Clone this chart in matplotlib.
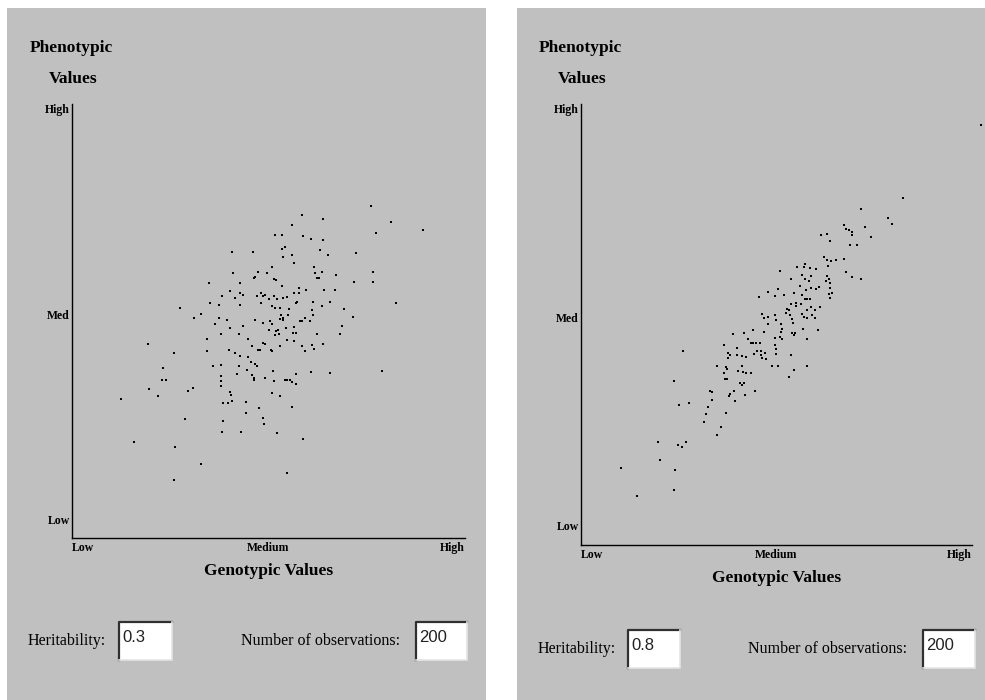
import matplotlib
matplotlib.use('Agg')
import matplotlib.pyplot as plt
from matplotlib.patches import Rectangle
from matplotlib.lines import Line2D

plt.rcParams['font.family'] = 'Liberation Serif'

# heritability 0.3 (genotypic, phenotypic), 0..100 along each axis
geno_h03 = [76.0, 81.1, 89.3, 77.3, 58.4, 63.8, 55.9, 51.6, 53.4, 58.9, 60.8, 63.8, 54.3, 53.5, 63.2,
            40.6, 46.1, 53.7, 55.9, 65.1, 72.2, 56.5, 51.0, 61.6, 40.9, 47.4, 49.5, 46.6, 46.3, 51.4,
            51.8, 61.8, 63.6, 62.4, 62.9, 67.3, 76.6, 76.5, 71.8, 34.8, 42.7, 53.4, 57.7, 64.2, 67.0,
            40.3, 38.1, 42.7, 43.6, 41.5, 47.0, 48.1, 48.6, 49.2, 50.2, 51.4, 52.2, 53.7, 54.6, 56.5,
            57.7, 59.6, 57.3, 57.0, 61.4, 63.6, 65.7, 82.5, 35.0, 37.3, 42.8, 48.2, 50.9, 51.7, 52.9,
            55.3, 61.1, 69.3, 27.4, 32.9, 31.1, 37.5, 39.4, 46.5, 48.7, 50.5, 50.8, 53.1, 53.7, 53.7,
            52.8, 54.9, 59.3, 58.0, 58.5, 61.2, 60.5, 71.5, 36.5, 40.2, 43.5, 50.1, 52.0, 52.5, 54.4,
            56.5, 56.3, 57.0, 68.7, 68.1, 37.8, 42.5, 51.7, 52.7, 62.3, 34.3, 44.8, 54.7, 56.6, 19.4,
            45.7, 48.6, 49.2, 47.4, 47.8, 40.0, 41.6, 42.7, 50.6, 51.0, 52.8, 58.6, 59.2, 61.0, 61.7,
            63.8, 25.9, 34.3, 44.8, 46.5, 45.6, 47.0, 35.9, 38.0, 42.6, 23.2, 44.5, 41.9, 45.8, 51.1,
            60.7, 65.6, 78.9, 22.9, 24.0, 38.0, 38.0, 46.2, 46.4, 49.0, 51.4, 54.3, 54.6, 55.5, 57.0,
            56.1, 57.1, 37.8, 30.7, 29.6, 19.7, 21.9, 40.3, 40.4, 51.0, 52.9, 12.4, 38.5, 39.7, 40.8,
            44.3, 47.7, 55.9, 44.2, 28.7, 38.3, 48.6, 48.9, 38.1, 43.0, 52.2, 58.7, 15.8, 26.2, 32.8,
            54.8, 25.9]
pheno_h03 = [76.4, 72.9, 70.9, 70.2, 74.4, 73.6, 72.1, 69.9, 69.9, 69.5, 69.0, 68.7, 67.1, 66.7, 66.3,
             66.0, 66.0, 64.8, 65.1, 65.1, 65.6, 63.3, 62.5, 62.5, 61.1, 61.4, 61.1, 60.1, 59.8, 59.7,
             59.4, 61.1, 61.4, 59.9, 59.9, 60.6, 61.4, 59.1, 59.1, 58.8, 58.8, 58.0, 57.5, 57.2, 57.2,
             56.8, 55.7, 56.5, 56.1, 55.3, 55.7, 56.4, 55.7, 56.1, 55.0, 55.7, 55.1, 55.3, 55.6, 56.4,
             56.5, 57.2, 54.4, 54.1, 54.3, 53.4, 54.4, 54.1, 54.1, 53.7, 53.8, 54.1, 53.4, 53.1, 53.0,
             52.7, 52.6, 52.7, 53.0, 51.7, 50.6, 50.6, 50.3, 50.3, 49.6, 49.9, 49.3, 51.3, 50.7, 50.3,
             50.5, 51.3, 50.6, 49.9, 49.9, 51.3, 50.1, 50.9, 49.2, 48.4, 48.8, 48.0, 47.8, 47.9, 48.4,
             48.6, 47.3, 47.3, 48.8, 46.9, 46.9, 46.9, 46.7, 46.9, 46.9, 45.8, 45.8, 45.7, 45.3, 44.6,
             44.2, 44.9, 44.7, 43.3, 43.4, 43.4, 42.6, 42.0, 43.4, 43.1, 44.3, 44.3, 43.1, 44.4, 43.5,
             44.6, 42.7, 43.1, 41.6, 40.2, 40.6, 39.7, 39.6, 39.8, 39.6, 39.2, 38.6, 37.7, 37.6, 38.5,
             38.3, 38.1, 38.5, 36.5, 36.5, 37.3, 36.2, 36.8, 36.5, 36.9, 36.2, 36.5, 36.3, 36.3, 37.8,
             36.0, 35.5, 35.0, 34.6, 33.8, 34.3, 32.7, 33.6, 32.9, 33.4, 32.7, 32.1, 31.2, 31.2, 31.6,
             31.3, 30.0, 30.1, 28.9, 27.5, 27.0, 27.7, 26.2, 24.4, 24.4, 24.1, 22.8, 22.1, 21.0, 17.1,
             14.9, 13.3]

# heritability 0.8
geno_h08 = [102.2, 82.4, 71.5, 78.6, 79.5, 67.2, 67.9, 68.6, 69.3, 69.2, 72.6, 74.1, 61.4, 63.0, 63.7,
            68.8, 70.5, 62.1, 63.0, 63.2, 64.0, 65.2, 67.3, 67.9, 69.2, 71.5, 55.2, 57.0, 57.2, 58.5,
            60.2, 51.0, 58.9, 62.9, 63.5, 62.6, 63.6, 63.6, 63.3, 64.3, 63.8, 53.7, 56.5, 57.2, 58.3,
            56.0, 58.7, 57.6, 60.8, 60.2, 45.5, 47.9, 50.3, 49.5, 52.0, 54.4, 56.6, 57.3, 57.9, 58.6,
            56.3, 55.1, 53.7, 52.8, 52.4, 53.2, 53.5, 54.9, 61.0, 58.9, 57.8, 56.6, 57.1, 57.8, 59.8,
            59.0, 59.8, 46.2, 46.8, 47.8, 47.9, 49.6, 49.8, 51.2, 53.9, 54.3, 51.4, 51.1, 53.9, 54.4,
            54.7, 56.8, 60.5, 57.9, 44.1, 46.8, 41.8, 38.9, 42.8, 43.6, 44.0, 44.7, 45.7, 49.6, 49.7,
            51.5, 50.9, 39.8, 36.7, 37.7, 38.2, 37.5, 39.8, 41.1, 42.2, 44.3, 45.1, 46.1, 47.1, 46.1,
            46.3, 47.4, 49.8, 49.8, 53.6, 48.8, 50.5, 57.8, 53.2, 54.4, 34.8, 37.0, 37.4, 36.5, 40.1,
            41.3, 41.5, 42.3, 43.4, 36.8, 37.4, 40.7, 41.2, 41.7, 33.1, 33.6, 38.2, 37.9, 39.1, 41.9,
            44.6, 33.6, 39.3, 26.0, 23.8, 25.0, 27.7, 32.5, 31.9, 31.5, 37.0, 35.7, 34.8, 19.8, 24.7,
            25.9, 26.8, 20.1, 24.0, 10.2, 14.2, 23.8]
pheno_h08 = [95.3, 78.6, 76.3, 74.1, 72.9, 72.5, 71.7, 71.4, 71.0, 70.2, 72.1, 69.9, 70.4, 70.5, 69.0,
             68.0, 68.0, 65.3, 64.7, 63.3, 64.4, 64.7, 64.9, 61.9, 60.8, 60.3, 63.1, 63.1, 63.8, 62.8,
             62.6, 62.2, 61.1, 61.0, 60.3, 59.8, 59.3, 58.3, 57.0, 57.2, 55.9, 60.4, 61.3, 60.3, 59.8,
             58.8, 58.3, 57.8, 58.4, 58.0, 56.3, 57.3, 58.0, 56.5, 56.7, 57.1, 56.7, 55.7, 55.7, 55.7,
             54.7, 54.9, 54.6, 53.5, 52.7, 53.2, 52.2, 54.3, 53.9, 53.9, 53.2, 52.4, 51.7, 51.5, 53.2,
             52.2, 51.5, 52.3, 51.5, 51.7, 50.2, 52.2, 51.1, 50.2, 51.2, 50.4, 48.9, 48.4, 48.1, 47.7,
             48.1, 48.9, 48.7, 46.6, 48.7, 48.4, 48.1, 47.9, 46.7, 45.9, 45.9, 45.9, 45.7, 46.9, 45.4,
             46.6, 47.1, 44.7, 45.3, 43.6, 43.1, 42.3, 43.0, 42.8, 42.6, 43.3, 44.1, 44.1, 43.6, 43.1,
             42.5, 42.2, 44.4, 43.4, 43.1, 40.5, 40.5, 40.5, 38.2, 39.7, 40.5, 40.3, 39.9, 39.0, 39.5,
             40.7, 39.3, 38.9, 39.1, 37.7, 37.7, 36.8, 36.2, 36.7, 35.0, 34.8, 34.2, 33.9, 35.0, 34.0,
             34.9, 32.9, 32.6, 44.0, 37.1, 31.7, 32.1, 31.2, 29.7, 28.0, 29.9, 26.7, 25.0, 23.3, 22.7,
             22.2, 23.3, 19.2, 17.0, 17.4, 11.2, 12.5]

heritability = ['0.3', '0.8']
n_obs = ['200', '200']
tick_names = ['Low', 'Medium', 'High']

W, H = 985, 700
fig = plt.figure(figsize=(W / 100, H / 100), dpi=100)
fig.patch.set_facecolor('white')
bg = '#c0c0c0'


def fx(x):
    return x / W


def fy(y):
    return 1 - y / H


def input_box(x0, x1, y0, y1, txt):
    fig.add_artist(Rectangle((fx(x0), fy(y1)), fx(x1 - x0), (y1 - y0) / H,
                             transform=fig.transFigure, facecolor='white', edgecolor='none'))
    # sunken border: dark top/left, light bottom/right
    fig.add_artist(Line2D([fx(x0), fx(x0), fx(x1)], [fy(y1), fy(y0), fy(y0)],
                          transform=fig.transFigure, color='#303030', lw=1.6))
    fig.add_artist(Line2D([fx(x0), fx(x1), fx(x1)], [fy(y1), fy(y1), fy(y0)],
                          transform=fig.transFigure, color='#e4e4e4', lw=1.2))
    fig.text(fx(x0 + 3), fy((y0 + y1) / 2 - 3), txt, ha='left', va='center',
             fontsize=12, family='Liberation Sans', color='#222222')


panels = [
    # panel x-range, axes box (left, right, top, bottom), text row y, data
    dict(px=(7, 486), ax=(72, 465, 104, 538),
         x=geno_h03, y=pheno_h03, h=heritability[0], n=n_obs[0],
         hbox=(119, 172), nbox=(416, 467), row=641),
    dict(px=(517, 985), ax=(581, 972, 104, 545),
         x=geno_h08, y=pheno_h08, h=heritability[1], n=n_obs[1],
         hbox=(628, 680), nbox=(923, 975), row=649),
]

for p in panels:
    x0, x1 = p['px']
    fig.add_artist(Rectangle((fx(x0), 0), fx(x1 - x0), fy(8), transform=fig.transFigure,
                             facecolor=bg, edgecolor='none', zorder=0))

    l, r, t, b = p['ax']
    ax = fig.add_axes([fx(l), fy(b), fx(r - l), (b - t) / H])
    ax.patch.set_alpha(0)
    ax.set_xlim(0, 100)
    ax.set_ylim(0, 100)
    for s in ['top', 'right']:
        ax.spines[s].set_visible(False)
    for s in ['left', 'bottom']:
        ax.spines[s].set_color('black')
        ax.spines[s].set_linewidth(1.0)
    ax.set_xticks([])
    ax.set_yticks([])

    ax.plot(p['x'], p['y'], 's', color='black', markersize=2.0, markeredgewidth=0,
            clip_on=False)

    # axis labels
    hgt = b - t
    wid = r - l
    ax.text(-2 / wid, 1.0, 'High', transform=ax.transAxes, ha='right', va='top',
            fontsize=8.5, fontweight='bold')
    ax.text(-2 / wid, 0.512, 'Med', transform=ax.transAxes, ha='right', va='center',
            fontsize=8.5, fontweight='bold')
    ax.text(-2 / wid, 0.04, 'Low', transform=ax.transAxes, ha='right', va='center',
            fontsize=8.5, fontweight='bold')
    for xv, name, ha in zip([0, 0.5, 1.0], tick_names, ['left', 'center', 'right']):
        ax.text(xv, -10 / hgt, name, transform=ax.transAxes, ha=ha, va='center',
                fontsize=8.5, fontweight='bold')

    cx = (l + r) / 2
    fig.text(fx(cx), fy(b + 33), 'Genotypic Values', ha='center', va='center',
             fontsize=12.5, fontweight='bold')
    fig.text(fx(l - 1), fy(48), 'Phenotypic', ha='center', va='center',
             fontsize=12.5, fontweight='bold')
    fig.text(fx(l + 1), fy(79), 'Values', ha='center', va='center',
             fontsize=12.5, fontweight='bold')

    row = p['row']
    fig.text(fx(x0 + 21), fy(row), 'Heritability:', ha='left', va='center', fontsize=11.5)
    input_box(p['hbox'][0], p['hbox'][1], row - 19, row + 19, p['h'])
    fig.text(fx(p['nbox'][0] - 16), fy(row), 'Number of observations:', ha='right',
             va='center', fontsize=11.5)
    input_box(p['nbox'][0], p['nbox'][1], row - 19, row + 19, p['n'])

fig.savefig('out.png', dpi=100)
